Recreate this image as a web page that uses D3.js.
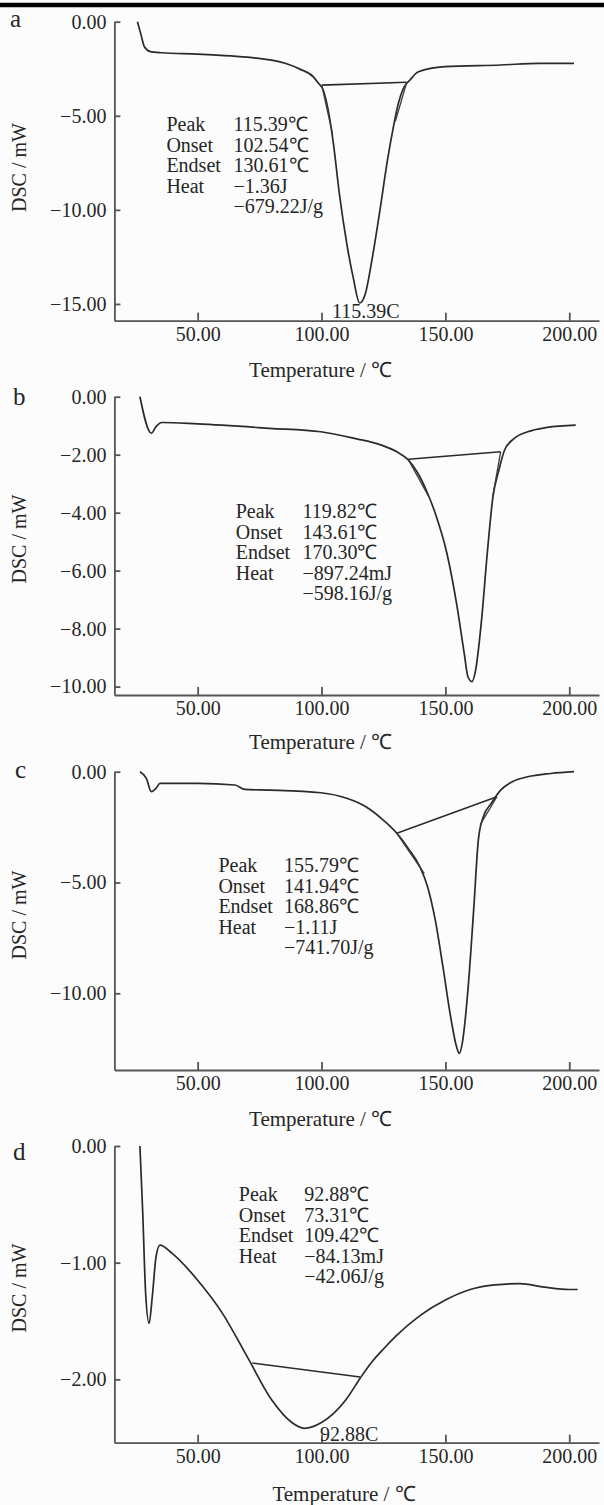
<!DOCTYPE html>
<html>
<head>
<meta charset="utf-8">
<script src="https://cdn.jsdelivr.net/npm/d3@7"></script>
<style>
  body { margin: 0; background: #fcfcfc; }
  svg text { font-family: "Liberation Serif", "Times New Roman", serif; fill: #262626; }
</style>
</head>
<body>
<svg id="chart" width="604" height="1505"></svg>
<script>
// ---- data ----
var tempTicks = [50, 100, 150, 200];
var noteLabels = ["Peak", "Onset", "Endset", "Heat", ""];

// panel a
var aTemp = [25.7, 27.0, 28.5, 30.9, 35.5, 50, 63.5, 74.7, 85.3, 91.3, 96.7, 98.6, 100.7, 102.7, 104.8, 107.2, 110.2, 112.8, 115.4, 117.6, 120.3, 123.6, 126.6, 129.0, 131.0, 133.0, 135.7, 139.1, 149.8, 172.3, 187.9, 201.9];
var aDsc  = [0, -0.62, -1.33, -1.59, -1.65, -1.72, -1.82, -1.95, -2.21, -2.52, -2.93, -3.25, -3.64, -4.70, -6.48, -9.14, -11.8, -13.6, -14.95, -14.5, -12.7, -10.0, -7.37, -5.6, -4.35, -3.55, -3.1, -2.66, -2.39, -2.30, -2.21, -2.21];
var aBaseTemp = [100.1, 134.4];
var aBaseDsc  = [-3.37, -3.22];
var aTangTemp = [[100.1, 104.5], [134.4, 129.8]];
var aTangDsc  = [[-3.37, -6.0], [-3.22, -5.3]];
var aTicks = [0, -5, -10, -15];
var aValues = ["115.39℃", "102.54℃", "130.61℃", "−1.36J", "−679.22J/g"];

// panel b
var bTemp = [26.7, 31.3, 33.2, 35.5, 50, 79.1, 99.7, 113.3, 124.2, 130.4, 135.0, 138.9, 142.8, 145.9, 150.6, 154.5, 157.6, 159.1, 160.7, 162.2, 164.6, 166.9, 169.2, 171.6, 173.9, 177.8, 183.2, 191.0, 202.6];
var bDsc  = [0, -1.26, -1.03, -0.89, -0.94, -1.09, -1.21, -1.44, -1.67, -1.90, -2.18, -2.64, -3.33, -4.02, -5.40, -7.13, -8.85, -9.66, -9.83, -9.43, -7.70, -5.40, -3.45, -2.53, -1.84, -1.44, -1.21, -1.06, -0.98];
var bBaseTemp = [135.0, 172.3];
var bBaseDsc  = [-2.16, -1.90];
var bTangTemp = [[135.0, 143.3], [172.3, 169.0]];
var bTangDsc  = [[-2.16, -3.45], [-1.90, -3.5]];
var bTicks = [0, -2, -4, -6, -8, -10];
var bValues = ["119.82℃", "143.61℃", "170.30℃", "−897.24mJ", "−598.16J/g"];

// panel c
var cTemp = [26.7, 29.3, 31.3, 33.2, 34.8, 50, 65.1, 69.0, 79.1, 99.7, 110.2, 117.9, 125.7, 130.4, 135.0, 139.7, 142.8, 145.9, 149.0, 152.1, 154.5, 155.6, 156.8, 159.1, 161.5, 163.3, 165.3, 168.5, 172.3, 177.0, 183.2, 192.5, 201.9];
var cDsc  = [0, -0.30, -0.90, -0.75, -0.53, -0.53, -0.60, -0.80, -0.83, -0.95, -1.20, -1.58, -2.26, -2.78, -3.46, -4.29, -5.19, -6.69, -8.80, -11.05, -12.41, -12.71, -12.26, -9.85, -6.09, -3.08, -2.03, -1.43, -0.83, -0.45, -0.23, -0.08, 0];
var cBaseTemp = [130.4, 170.8];
var cBaseDsc  = [-2.78, -1.13];
var cTangTemp = [[130.4, 141.5], [170.8, 164.0]];
var cTangDsc  = [[-2.78, -4.6], [-1.13, -2.4]];
var cTicks = [0, -5, -10];
var cValues = ["155.79℃", "141.94℃", "168.86℃", "−1.11J", "−741.70J/g"];

// panel d
var dTemp = [26.7, 27.8, 29.0, 30.4, 31.7, 33.2, 34.8, 39.7, 50, 59.9, 70.1, 80.0, 88.0, 93.1, 100.0, 105.0, 110.0, 115.6, 120.0, 125.0, 130.0, 140.0, 150.0, 160.0, 170.0, 180.0, 190.0, 200.0, 203.4];
var dDsc  = [0, -0.55, -1.26, -1.52, -1.29, -0.95, -0.85, -0.92, -1.15, -1.43, -1.81, -2.18, -2.37, -2.42, -2.37, -2.29, -2.17, -1.99, -1.86, -1.74, -1.63, -1.45, -1.32, -1.23, -1.19, -1.18, -1.21, -1.23, -1.23];
var dBaseTemp = [72.1, 115.6];
var dBaseDsc  = [-1.86, -1.98];
var dTicks = [0, -1, -2];
var dValues = ["92.88℃", "73.31℃", "109.42℃", "−84.13mJ", "−42.06J/g"];

// ---- layout ----
var svg = d3.select("#chart");
var fmt = d3.format(".2f");
var axisX = 114.4;

svg.append("line").attr("x1", 0).attr("x2", 604).attr("y1", 5).attr("y2", 5)
   .attr("stroke", "#000").attr("stroke-width", 4.5);

var x = d3.scaleLinear().domain([16.4, 212]).range([axisX, 599]);

var panels = [
  {name: "a", temp: aTemp, dsc: aDsc, baseT: aBaseTemp, baseV: aBaseDsc, tangT: aTangTemp, tangV: aTangDsc,
   ticks: aTicks, values: aValues, top: 21.7, bottom: 320.7, ymin: -15.89,
   lab: [10, 27], note: [166.4, 233.5, 131], xTitle: [320.6, 377], yTitle: 167.5, peak: {text: "115.39C", t: 115.39, dx: -27.6, y: 318}},
  {name: "b", temp: bTemp, dsc: bDsc, baseT: bBaseTemp, baseV: bBaseDsc, tangT: bTangTemp, tangV: bTangDsc,
   ticks: bTicks, values: bValues, top: 396.7, bottom: 695, ymin: -10.29,
   lab: [13, 405], note: [235.7, 302.4, 518], xTitle: [320.6, 749], yTitle: 539, peak: null},
  {name: "c", temp: cTemp, dsc: cDsc, baseT: cBaseTemp, baseV: cBaseDsc, tangT: cTangTemp, tangV: cTangDsc,
   ticks: cTicks, values: cValues, top: 771.7, bottom: 1070, ymin: -13.46,
   lab: [15, 778], note: [218.4, 283.9, 872], xTitle: [320.6, 1126], yTitle: 915, peak: null},
  {name: "d", temp: dTemp, dsc: dDsc, baseT: dBaseTemp, baseV: dBaseDsc, tangT: [], tangV: [],
   ticks: dTicks, values: dValues, top: 1146, bottom: 1442.7, ymin: -2.543,
   lab: [13, 1160], note: [238.8, 304.3, 1201], xTitle: [344, 1501], yTitle: 1288, peak: {text: "92.88C", t: 92.88, dx: 16, y: 1441}}
];

function drawPanel(p)
{
  var y = d3.scaleLinear().domain([p.ymin, 0]).range([p.bottom, p.top]);
  var g = svg.append("g").attr("class", "panel-" + p.name);

  var xAxis = d3.axisBottom(x).tickValues(tempTicks).tickFormat(fmt)
                .tickSizeInner(-8).tickSizeOuter(0).tickPadding(6);
  var yAxis = d3.axisLeft(y).tickValues(p.ticks).tickFormat(fmt)
                .tickSizeInner(-6).tickSizeOuter(0).tickPadding(8);

  var gx = g.append("g").attr("transform", "translate(0," + p.bottom + ")").call(xAxis);
  var gy = g.append("g").attr("transform", "translate(" + axisX + ",0)").call(yAxis);
  [gx, gy].forEach(function(a) {
    a.attr("font-family", null).attr("font-size", 20);
    a.selectAll("path, line").attr("stroke", "#555").attr("stroke-width", 1.8);
    a.selectAll("text").attr("fill", "#262626");
  });

  var line = d3.line()
               .x(function(d) { return x(d[0]); })
               .y(function(d) { return y(d[1]); })
               .curve(d3.curveMonotoneX);
  var straight = d3.line()
               .x(function(d) { return x(d[0]); })
               .y(function(d) { return y(d[1]); });

  var pts = p.temp.map(function(t, i) { return [t, p.dsc[i]]; });
  g.append("path").datum(pts).attr("d", line)
   .attr("fill", "none").attr("stroke", "#2a2a2a").attr("stroke-width", 1.7);

  var base = p.baseT.map(function(t, i) { return [t, p.baseV[i]]; });
  g.append("path").datum(base).attr("d", straight)
   .attr("fill", "none").attr("stroke", "#2a2a2a").attr("stroke-width", 1.6);

  p.tangT.forEach(function(tt, k) {
    var seg = tt.map(function(t, i) { return [t, p.tangV[k][i]]; });
    g.append("path").datum(seg).attr("d", straight)
     .attr("fill", "none").attr("stroke", "#3a3a3a").attr("stroke-width", 1.3);
  });

  // results box
  var rows = g.append("g").attr("font-size", 20);
  noteLabels.forEach(function(lbl, i) {
    var yy = p.note[2] + i * 20.5;
    rows.append("text").attr("x", p.note[0]).attr("y", yy).text(lbl);
    rows.append("text").attr("x", p.note[1]).attr("y", yy).text(p.values[i]);
  });

  if (p.peak) {
    g.append("text").attr("x", x(p.peak.t) + p.peak.dx).attr("y", p.peak.y)
     .attr("font-size", 20).text(p.peak.text);
  }

  g.append("text").attr("x", p.xTitle[0]).attr("y", p.xTitle[1])
   .attr("text-anchor", "middle").attr("font-size", 21).text("Temperature / ℃");

  g.append("text").attr("transform", "translate(26," + p.yTitle + ") rotate(-90)")
   .attr("text-anchor", "middle").attr("font-size", 20).text("DSC / mW");

  g.append("text").attr("x", p.lab[0]).attr("y", p.lab[1])
   .attr("font-size", 25).text(p.name);
}

panels.forEach(drawPanel);
</script>
</body>
</html>
